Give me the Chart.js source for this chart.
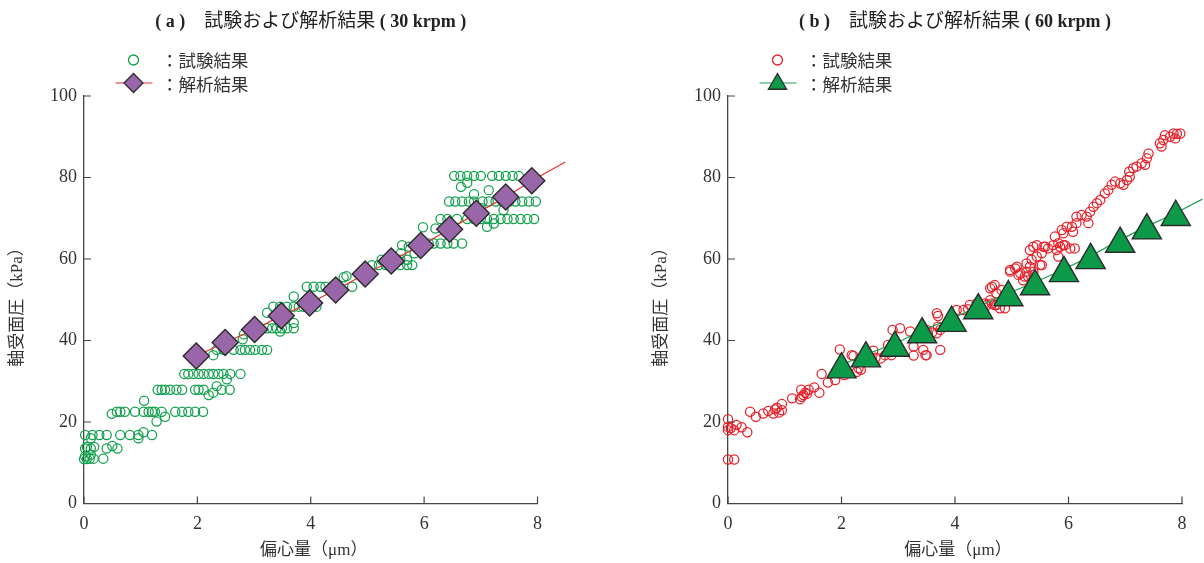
<!DOCTYPE html>
<html><head><meta charset="utf-8">
<script src="https://cdn.jsdelivr.net/npm/chart.js@4.4.1/dist/chart.umd.min.js"></script>
<style>
html,body{margin:0;padding:0;background:#fff;}
#wrap{position:relative;width:1204px;height:563px;overflow:hidden;background:#fff;}
canvas{position:absolute;top:0;}
#cA{left:0;} #cB{left:600px;}
</style></head><body>
<div id="wrap"><canvas id="cA" width="600" height="563"></canvas><canvas id="cB" width="604" height="563"></canvas></div>
<script>
// ---- tick labels ----
const xTicks = [0, 2, 4, 6, 8];
const yTicks = [0, 20, 40, 60, 80, 100];

// ---- texts ----
const titleA = ['( a )', '試験および解析結果', '( 30 krpm )'];
const titleB = ['( b )', '試験および解析結果', '( 60 krpm )'];
const legendLabels = ['：試験結果', '：解析結果'];
const xTitle = '偏心量（μm）';
const yTitle = '軸受面圧（kPa）';

// ---- (a) 30 krpm : experiment (x, y) ----
const expA = [
[0,10.9],[0.05,10.9],[0.1,11],[0.17,11],[0.34,11],[0.02,11.6],[0.12,12],
[0.02,13.5],[0.12,13.5],[0.4,13.5],[0.5,14.1],[0.59,13.5],[0.05,13.9],[0.18,13.9],
[0.02,16.8],[0.15,16.8],[0.27,16.8],[0.4,16.8],[0.64,16.8],[0.81,16.8],[0.96,16.8],[1.05,17.5],[1.2,16.8],[0.96,16],[0.12,16],
[0.49,22],[0.58,22.5],[0.64,22.5],[0.72,22.5],[0.9,22.5],[1.05,22.5],[1.14,22.5],[1.2,22.5],[1.28,20.1],[1.37,22.5],[1.43,21.3],[1.61,22.5],[1.73,22.5],[1.84,22.5],[1.96,22.5],[2.1,22.5],[1.06,25.2],[1.25,22.5],
[1.3,27.9],[1.37,27.9],[1.43,27.9],[1.52,27.9],[1.63,27.9],[1.73,27.9],[1.96,27.9],[2.02,27.9],[2.11,27.9],[2.2,26.6],[2.28,27.2],[2.34,28.8],[2.43,27.9],[2.57,27.9],
[1.77,31.8],[1.84,31.8],[1.93,31.8],[2.02,31.8],[2.11,31.8],[2.2,31.8],[2.28,31.8],[2.37,31.8],[2.46,31.8],[2.52,30.5],[2.58,31.8],[2.76,31.8],
[2.28,36.4],[2.34,37.7],[2.46,37.7],[2.64,37.7],[2.76,37.7],[2.84,37.7],[2.93,37.7],[3.02,37.7],[3.14,37.7],[3.23,37.7],[2.8,40.3],[2.82,41.5],
[3.23,43],[3.32,43],[3.4,43],[3.49,43],[3.58,43],[3.7,43],[3.46,42.2],[3.7,44.3],
[3.23,46.8],[3.34,48.3],[3.46,48.3],[3.58,48.3],[3.7,48.3],[3.79,48.3],[3.7,50.8],[3.87,48.3],[3.99,48.3],[4.1,48.3],
[3.93,53.2],[4.05,53.2],[4.17,53.2],[4.26,53.2],[4.38,53.2],[4.58,55.5],[4.63,55.8],[4.73,53.2],
[5.08,58.5],[5.2,58.5],[5.32,58.5],[5.44,58.5],[5.58,58.5],[5.7,58.5],[5.79,58.5],[5.25,59.8],[5.58,59.8],[5.7,59.8],[5.59,61.4],[5.83,61.4],[5.61,63.4],[5.73,63],[5.98,67.8],
[6.08,63.8],[6.17,63.8],[6.29,63.8],[6.41,63.8],[6.52,63.8],[6.67,63.8],[6.2,67.5],
[6.29,69.8],[6.41,69.8],[6.58,69.8],[6.76,69.8],[6.88,69.8],[7.0,69.8],[7.11,69.8],[7.23,69.8],[7.35,69.8],[7.47,69.8],[7.58,69.8],[7.7,69.8],[7.82,69.8],[7.94,69.8],[7.11,67.9],[7.23,68.7],
[6.44,74.1],[6.55,74.1],[6.67,74.1],[6.79,74.1],[6.88,74.1],[7.03,74.1],[7.14,74.1],[7.26,74.1],[7.38,74.1],[7.5,74.1],[7.61,74.1],[7.73,74.1],[7.85,74.1],[7.97,74.1],[6.88,75.9],[7.14,76.9],[7.0,72.5],[7.4,72],
[6.53,80.4],[6.64,80.4],[6.76,80.4],[6.88,80.4],[7.0,80.4],[7.2,80.4],[7.32,80.4],[7.44,80.4],[7.56,80.4],[7.67,80.4],[6.65,77.7],[6.76,78.7]
];
// ---- (a) analysis (diamonds) ----
const anaA_x = [1.98, 2.49, 3.01, 3.48, 3.98, 4.44, 4.96, 5.42, 5.94, 6.45, 6.92, 7.44, 7.9];
const anaA_y = [36.2, 39.5, 42.7, 46.1, 49.2, 52.4, 56.3, 59.5, 63.3, 67.3, 71.2, 75.2, 79.2];
// analysis curve (a): drawn through the diamonds, continues to this end point
const lineA_end = [8.49, 83.8];

// ---- (b) 60 krpm : experiment (x, y) ----
const expB = [
[0,10.8],[0.11,10.8],[0,20.7],[0,18.8],[0,18],[0.11,18],[0.15,19.3],[0.24,18.7],[0.34,17.5],[0.05,18.5],
[0.39,22.5],[0.49,21.3],[0.62,22.1],[0.71,22.7],[0.8,22.1],[0.83,23.1],[0.86,23.5],[0.95,22.9],[0.95,24.4],[0.9,22.3],
[1.13,25.8],[1.27,25.6],[1.29,27.9],[1.33,26.6],[1.39,26.9],[1.42,27.9],[1.52,28.5],[1.61,27.2],[1.3,26.2],[1.36,27.2],
[1.65,31.8],[1.76,29.7],[1.89,30.3],[1.97,37.8],[2.0,33],[2.05,31.5],[2.18,36.4],[2.21,36.2],[2.3,33.2],[2.34,32.8],[2.27,32.3],[2.56,37.5],[2.69,35.6],[2.82,38.9],[2.6,35.8],[2.77,36.4],[2.88,36.4],[2.9,42.6],
[3.03,43],[3.21,42.2],[3.27,38.5],[3.27,36.3],[3.44,37.7],[3.48,36.4],[3.5,36.4],[3.74,37.7],[3.68,46.7],[3.7,46],[3.68,41.8],[3.74,42.6],[3.7,43.4],[3.5,42.6],[3.6,42],
[4.03,47.5],[4.15,47.5],[4.23,47.7],[4.26,48.7],[4.38,49.1],[4.53,49.1],[4.56,48.7],[4.62,49.9],[4.65,49.1],[4.7,48.7],[4.73,48.7],[4.79,47.9],[4.88,47.9],[4.62,52.8],[4.65,53.2],[4.7,53.6],[4.73,51.6],[4.82,52.4],
[4.97,56.9],[4.97,57.3],[5.06,57.7],[5.09,58.1],[5.12,56.1],[5.15,56.5],[5.2,54.8],[5.23,55.7],[5.26,56.9],[5.29,55.7],[5.32,58.1],[5.38,56.9],[5.26,58.9],[5.35,59.8],[5.44,60.6],[5.5,58.5],[5.53,58.5],[5.32,62.2],[5.38,63],[5.44,63.4],[5.53,61.4],[5.56,63],[5.59,63],[5.64,62.6],[5.73,63.4],[5.79,62.2],[5.82,60.6],[5.82,63.9],[5.85,63],[5.91,63.4],[5.94,63.4],[6.03,62.6],[6.11,62.6],[5.76,65.5],[5.88,67.1],[5.91,66.3],[5.97,67.9],[6.06,67.9],[6.08,66.7],
[6.14,68.8],[6.14,70.4],[6.23,70.8],[6.32,70.4],[6.35,68.8],[6.38,71.6],[6.44,72.8],[6.5,73.7],[6.56,74.5],[6.64,76.1],[6.7,76.9],[6.76,78.2],[6.82,79],[6.91,78.6],[6.97,78.2],[7.03,79.4],[7.08,80.2],[7.07,81.4],[7.14,82.3],[7.2,82.7],[7.29,83.5],[7.35,83.1],[7.38,84.7],[7.41,85.9],[7.61,88.4],[7.64,87.6],[7.67,89.2],[7.7,90.4],[7.79,90],[7.85,90.8],[7.91,90.7],[7.88,89.6],[7.97,90.8]
];
// ---- (b) analysis (triangles) ----
const anaB_x = [2.0, 2.43, 2.94, 3.42, 3.94, 4.41, 4.94, 5.41, 5.92, 6.39, 6.91, 7.38, 7.89];
const anaB_y = [32.9, 35.6, 38.2, 41.5, 44.3, 47.4, 50.6, 53.3, 56.5, 59.7, 63.7, 67.0, 70.3];
// analysis line (b)
const lineB_x = [2.0, 2.43, 2.94, 3.42, 3.94, 4.41, 4.94, 5.41, 5.92, 6.39, 6.91, 7.38, 7.89, 8.36];
const lineB_y = [34.0, 36.6, 39.2, 42.5, 45.3, 48.4, 51.6, 54.3, 57.5, 60.7, 64.7, 68.0, 71.3, 74.7];

// ---------------------------------------------------------------
const SERIF = '"Liberation Serif", "Times New Roman", serif';
const CJK = '"Noto Sans CJK JP", sans-serif';
const MIX = '"Liberation Serif", "Noto Sans CJK JP", serif';
const AXIS = '#454545';

const pts = a => a.map(([x, y]) => ({x, y}));
const zip = (xs, ys) => xs.map((x, i) => ({x, y: ys[i]}));

const decoPlugin = {
  id: 'deco',
  afterDraw(chart, args, o) {
    const ctx = chart.ctx, ca = chart.chartArea, xs = chart.scales.x, ys = chart.scales.y;
    ctx.save();
    // inward tick marks
    ctx.strokeStyle = AXIS; ctx.lineWidth = 1.2;
    ctx.beginPath();
    xTicks.forEach(v => { const p = xs.getPixelForValue(v); ctx.moveTo(p, ca.bottom); ctx.lineTo(p, ca.bottom - 7); });
    yTicks.forEach(v => { const p = ys.getPixelForValue(v); ctx.moveTo(ca.left, p); ctx.lineTo(ca.left + 7, p); });
    ctx.stroke();

    // title
    const cx = (ca.left + ca.right) / 2;
    const f1 = 'bold 18px ' + SERIF, f2 = '19px ' + CJK;
    ctx.font = f1; const w1 = ctx.measureText(o.title[0]).width;
    ctx.font = f2; const w2 = ctx.measureText(o.title[1]).width;
    ctx.font = f1; const w3 = ctx.measureText(' ' + o.title[2]).width;
    const gap = 19;
    let tx = cx - (w1 + gap + w2 + w3) / 2;
    const ty = 27;
    ctx.fillStyle = '#222'; ctx.textBaseline = 'alphabetic'; ctx.textAlign = 'left';
    ctx.font = f1; ctx.fillText(o.title[0], tx, ty); tx += w1 + gap;
    ctx.font = f2; ctx.fillText(o.title[1], tx, ty); tx += w2;
    ctx.font = f1; ctx.fillText(' ' + o.title[2], tx, ty);

    // legend
    const mx = ca.left + 49.5, r1 = 60, r2 = 83;
    ctx.lineWidth = 1.3;
    ctx.strokeStyle = o.expColor; ctx.fillStyle = 'rgba(0,0,0,0)';
    Chart.helpers.drawPoint(ctx, {pointStyle: 'circle', radius: 5, rotation: 0, borderWidth: 1.3}, mx, r1);
    ctx.strokeStyle = o.lineColor; ctx.lineWidth = 1.2;
    ctx.beginPath(); ctx.moveTo(mx - 18, r2); ctx.lineTo(mx + 19, r2); ctx.stroke();
    ctx.fillStyle = o.anaFill; ctx.strokeStyle = '#2b2b2b'; ctx.lineWidth = 1.3;
    Chart.helpers.drawPoint(ctx, {pointStyle: o.anaStyle, radius: o.legRadius, rotation: 0, borderWidth: 1.3}, mx, o.anaStyle === 'triangle' ? r2 + 1 : r2);
    ctx.fillStyle = '#333'; ctx.font = '17.5px ' + CJK; ctx.textBaseline = 'middle';
    ctx.fillText(legendLabels[0], ca.left + 77, r1);
    ctx.fillText(legendLabels[1], ca.left + 77, r2 + 1);

    // axis titles
    ctx.font = '17px ' + MIX; ctx.fillStyle = '#333'; ctx.textAlign = 'center'; ctx.textBaseline = 'middle';
    ctx.fillText(xTitle, cx + 3, 551);
    ctx.save();
    ctx.translate(ca.left - 66, 303); ctx.rotate(-Math.PI / 2);
    ctx.fillText(yTitle, 0, 0);
    ctx.restore();
    ctx.restore();
  }
};

function makeChart(id, cfg) {
  return new Chart(document.getElementById(id), {
    type: 'scatter',
    data: { datasets: [
      { data: cfg.ana, pointStyle: cfg.anaStyle, pointRadius: cfg.anaRadius, backgroundColor: cfg.anaFill,
        borderColor: '#2b2b2b', borderWidth: 1.4, showLine: false, clip: false },
      { data: cfg.line, showLine: true, pointRadius: 0, borderColor: cfg.lineColor, borderWidth: 1.2,
        backgroundColor: cfg.lineColor, clip: false, tension: 0 },
      { data: cfg.exp, pointStyle: 'circle', pointRadius: 4.6, backgroundColor: 'rgba(0,0,0,0)',
        borderColor: cfg.expColor, borderWidth: 1.25, showLine: false, clip: false }
    ]},
    options: {
      responsive: false, animation: false, devicePixelRatio: 1, events: [],
      layout: { padding: { top: 96, bottom: 19.5, left: 0, right: cfg.padRight } },
      plugins: { legend: { display: false }, title: { display: false }, tooltip: { enabled: false },
        deco: { title: cfg.title, expColor: cfg.expColor, lineColor: cfg.lineColor, anaFill: cfg.anaFill,
                anaStyle: cfg.anaStyle, legRadius: cfg.legRadius } },
      scales: {
        x: { type: 'linear', min: 0, max: 8,
             afterBuildTicks: s => { s.ticks = xTicks.map(v => ({value: v})); },
             afterFit: s => { s.height = 40; },
             grid: { display: true, drawOnChartArea: false, drawTicks: false },
             border: { display: true, color: AXIS, width: 1.3 },
             ticks: { padding: 10, color: '#333', font: { family: SERIF, size: 18 }, maxRotation: 0 } },
        y: { type: 'linear', min: 0, max: 100,
             afterBuildTicks: s => { s.ticks = yTicks.map(v => ({value: v})); },
             afterFit: s => { s.width = cfg.yWidth; },
             grid: { display: true, drawOnChartArea: false, drawTicks: false },
             border: { display: true, color: AXIS, width: 1.3 },
             ticks: { padding: 7, color: '#333', font: { family: SERIF, size: 18 } } }
      }
    },
    plugins: [decoPlugin]
  });
}

makeChart('cA', {
  exp: pts(expA), ana: zip(anaA_x, anaA_y), line: zip(anaA_x, anaA_y).concat([{x: lineA_end[0], y: lineA_end[1]}]),
  expColor: '#12a04c', lineColor: '#e8302c', anaFill: '#9a66aa', anaStyle: 'rectRot', anaRadius: 13, legRadius: 9.5,
  title: titleA, yWidth: 84, padRight: 62.5
});
makeChart('cB', {
  exp: pts(expB), ana: zip(anaB_x, anaB_y), line: zip(lineB_x, lineB_y),
  expColor: '#e8202a', lineColor: '#1a9f4f', anaFill: '#0c9a48', anaStyle: 'triangle', anaRadius: 16.8, legRadius: 10.5,
  title: titleB, yWidth: 128, padRight: 22
});
</script>
</body></html>
